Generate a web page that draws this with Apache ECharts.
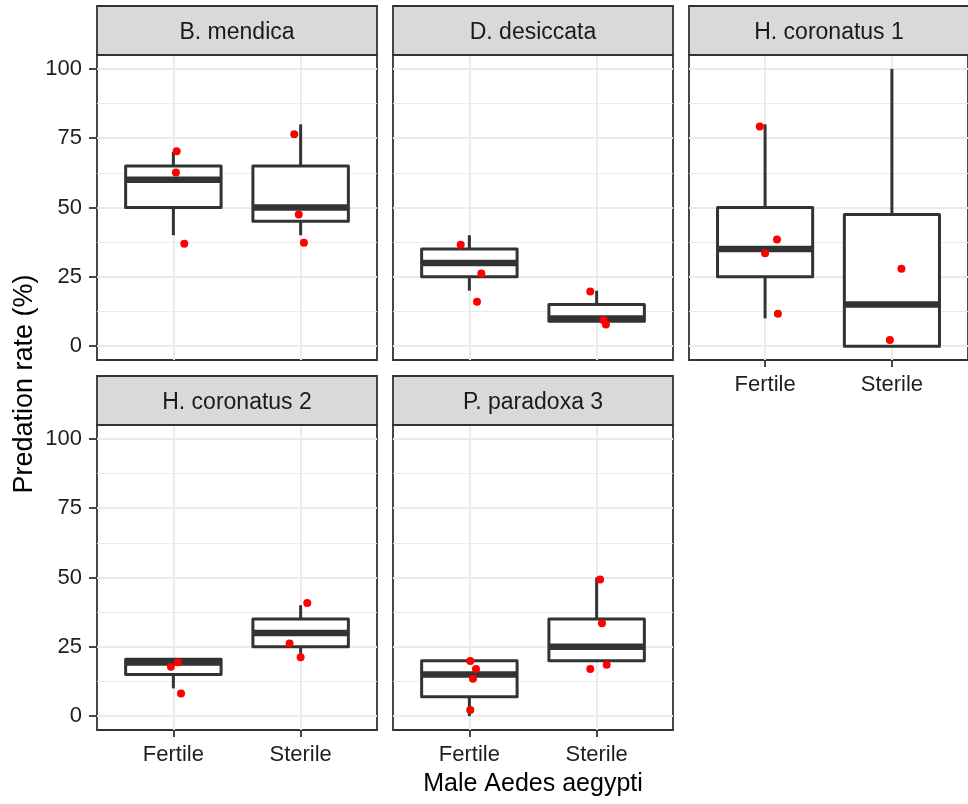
<!DOCTYPE html>
<html>
<head>
<meta charset="utf-8">
<script src="https://cdn.jsdelivr.net/npm/echarts@6/dist/echarts.min.js"></script>
<style>
  html, body { margin: 0; padding: 0; background: #ffffff; }
  #chart { width: 968px; height: 804px; }
</style>
</head>
<body>
<div id="chart"></div>
<script>
// Facet labels and x categories
const predators = ['B. mendica', 'D. desiccata', 'H. coronatus 1', 'H. coronatus 2', 'P. paradoxa 3'];
const maleTypes = ['Fertile', 'Sterile'];

// y axis breaks
const yTicks = [0, 25, 50, 75, 100];
const yMinorTicks = [12.5, 37.5, 62.5, 87.5];

// Box summaries, [lower whisker, Q1, median, Q3, upper whisker]; Fertile first, then Sterile
const boxBMendica = [[40, 50, 60, 65, 70], [40, 45, 50, 65, 80]];
const boxDDesiccata = [[20, 25, 30, 35, 40], [9, 9, 10, 15, 20]];
const boxHCoronatus1 = [[10, 25, 35, 50, 80], [0, 0, 15, 47.5, 100]];
const boxHCoronatus2 = [[10, 15, 19.3, 20.5, 20.5], [22.5, 25, 30, 35, 40]];
const boxPParadoxa3 = [[0, 7, 15, 20, 20], [20, 20, 25, 35, 50]];

// Jittered observations, [x position (1 = Fertile, 2 = Sterile), predation rate]
const ptsBMendica = [[1.026, 70.3], [1.02, 62.6], [1.086, 36.9], [1.95, 76.4], [1.985, 47.5], [2.026, 37.3]];
const ptsDDesiccata = [[0.932, 36.6], [1.094, 26.2], [1.06, 16.0], [1.95, 19.7], [2.052, 9.4], [2.073, 7.8]];
const ptsHCoronatus1 = [[0.958, 79.2], [1.094, 38.5], [1.0, 33.5], [1.101, 11.7], [2.075, 27.9], [1.984, 2.2]];
const ptsHCoronatus2 = [[0.981, 17.8], [1.036, 19.4], [1.06, 8.2], [1.913, 26.2], [2.0, 21.2], [2.052, 40.8]];
const ptsPParadoxa3 = [[1.007, 19.9], [1.052, 17.0], [1.028, 13.5], [1.007, 2.2], [2.027, 49.3], [2.042, 33.5], [1.95, 17.0], [2.079, 18.5]];

const boxSets = [boxBMendica, boxDDesiccata, boxHCoronatus1, boxHCoronatus2, boxPParadoxa3];
const pointSets = [ptsBMendica, ptsDDesiccata, ptsHCoronatus1, ptsHCoronatus2, ptsPParadoxa3];

// Panel layout (pixels)
const PANEL_W = 280, PANEL_H = 305, STRIP_H = 49;
const panelLeft = [97, 393, 689, 97, 393];
const panelTop = [55, 55, 55, 425, 425];
const showYLabels = [true, false, false, true, false];
const showXLabels = [false, false, true, true, true];

const FONT = "'Liberation Sans', Arial, sans-serif";
const DARK = '#333333';
const TEXT = '#1E1E1E';
const GRID_COL = '#EBEBEB';
const BOX_WIDTH = 0.75;

function renderBox(params, api) {
  const x = api.value(0);
  const lo = api.value(1), q1 = api.value(2), med = api.value(3), q3 = api.value(4), hi = api.value(5);
  const h = BOX_WIDTH / 2;
  const tl = api.coord([x - h, q3]);
  const br = api.coord([x + h, q1]);
  const mL = api.coord([x - h, med]);
  const mR = api.coord([x + h, med]);
  const pHi = api.coord([x, hi]);
  const pQ3 = api.coord([x, q3]);
  const pQ1 = api.coord([x, q1]);
  const pLo = api.coord([x, lo]);
  const ln = () => ({ stroke: DARK, lineWidth: 3, lineCap: 'butt' });
  return {
    type: 'group',
    children: [
      { type: 'line', shape: { x1: pQ3[0], y1: pQ3[1], x2: pHi[0], y2: pHi[1] }, style: ln() },
      { type: 'line', shape: { x1: pQ1[0], y1: pQ1[1], x2: pLo[0], y2: pLo[1] }, style: ln() },
      { type: 'rect', shape: { x: tl[0], y: tl[1], width: br[0] - tl[0], height: br[1] - tl[1] },
        style: { fill: '#ffffff', stroke: DARK, lineWidth: 3, lineJoin: 'round' } },
      { type: 'line', shape: { x1: mL[0], y1: mL[1], x2: mR[0], y2: mR[1] },
        style: { stroke: DARK, lineWidth: 6.5, lineCap: 'butt' } }
    ]
  };
}

const grids = [], xAxes = [], yAxes = [], series = [], graphics = [];

predators.forEach((name, i) => {
  grids.push({
    left: panelLeft[i], top: panelTop[i], width: PANEL_W, height: PANEL_H,
    show: true, backgroundColor: '#ffffff', borderColor: DARK, borderWidth: 1.8, z: 0
  });
  xAxes.push({
    type: 'value', gridIndex: i, min: 0.4, max: 2.6, position: 'bottom',
    axisLine: { show: false, onZero: false },
    axisTick: { show: showXLabels[i], customValues: [1, 2], length: 7, lineStyle: { color: DARK, width: 1.8 } },
    axisLabel: {
      show: showXLabels[i], customValues: [1, 2], margin: 14,
      formatter: v => maleTypes[Math.round(v) - 1],
      color: TEXT, fontSize: 22, fontFamily: FONT
    },
    splitLine: { show: true, lineStyle: { color: GRID_COL, width: 2 } }
  });
  // major y breaks
  yAxes.push({
    type: 'value', gridIndex: i, min: -5, max: 105, position: 'left',
    axisLine: { show: false, onZero: false },
    axisTick: { show: showYLabels[i], customValues: yTicks, length: 8, lineStyle: { color: DARK, width: 1.8 } },
    axisLabel: { show: showYLabels[i], customValues: yTicks, margin: 15, color: TEXT, fontSize: 22, fontFamily: FONT },
    splitLine: { show: true, lineStyle: { color: GRID_COL, width: 2 } }
  });
  // minor y breaks
  yAxes.push({
    type: 'value', gridIndex: i, min: -5, max: 105, position: 'left',
    axisLine: { show: false, onZero: false },
    axisTick: { show: false, customValues: yMinorTicks },
    axisLabel: { show: false, customValues: yMinorTicks },
    splitLine: { show: true, lineStyle: { color: GRID_COL, width: 1.2 } }
  });

  series.push({
    type: 'custom', xAxisIndex: i, yAxisIndex: 2 * i,
    renderItem: renderBox,
    encode: { x: 0, y: [1, 2, 3, 4, 5] },
    data: boxSets[i].map((b, g) => [g + 1].concat(b)),
    z: 2, silent: true
  });
  series.push({
    type: 'scatter', xAxisIndex: i, yAxisIndex: 2 * i,
    data: pointSets[i], symbolSize: 8,
    itemStyle: { color: '#FF0000', opacity: 1 }, z: 3, silent: true
  });

  // facet strip
  graphics.push({
    type: 'rect', z: 10,
    shape: { x: panelLeft[i], y: panelTop[i] - STRIP_H, width: PANEL_W, height: STRIP_H },
    style: { fill: '#D9D9D9', stroke: DARK, lineWidth: 1.8 }
  });
  graphics.push({
    type: 'text', z: 11,
    x: panelLeft[i] + PANEL_W / 2, y: panelTop[i] - STRIP_H / 2 + 2,
    style: { text: name, fill: '#1A1A1A', font: '23px ' + FONT, textAlign: 'center', textVerticalAlign: 'middle' }
  });
});

// axis titles
graphics.push({
  type: 'text', z: 11, x: 533, y: 784,
  style: { text: 'Male Aedes aegypti', fill: '#000000', font: '25px ' + FONT, textAlign: 'center', textVerticalAlign: 'middle' }
});
graphics.push({
  type: 'text', z: 11, x: 25, y: 384, rotation: Math.PI / 2,
  style: { text: 'Predation rate (%)', fill: '#000000', font: '27px ' + FONT, textAlign: 'center', textVerticalAlign: 'middle' }
});

const chart = echarts.init(document.getElementById('chart'), null, { renderer: 'canvas' });
chart.setOption({
  backgroundColor: '#ffffff',
  animation: false,
  grid: grids,
  xAxis: xAxes,
  yAxis: yAxes,
  series: series,
  graphic: graphics
});
</script>
</body>
</html>
